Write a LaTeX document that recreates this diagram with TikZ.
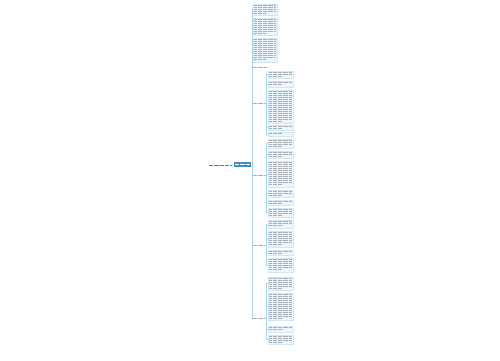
\documentclass[tikz,border=0pt]{standalone}
\usepackage{tikz}
\usetikzlibrary{fit,calc}
\definecolor{hubblue}{HTML}{3E8EBF}
\definecolor{boxfill}{HTML}{EEF6FC}
\definecolor{boxline}{HTML}{CFE6F4}
\definecolor{linkblue}{HTML}{A9D3EC}
\definecolor{inkgray}{HTML}{A7AFB5}
\definecolor{rootgray}{HTML}{6E7479}

\tikzset{
  tbox/.style={draw=boxline, fill=boxfill, line width=0.2pt, inner sep=0pt},
  hubbox/.style={fill=hubblue, inner sep=0pt},
  label/.style={inner sep=0pt},
  conn/.style={linkblue, line width=0.45pt},
  txtline/.style={inkgray, line width=0.45pt, dash pattern=on 0.45pt off 0.25pt},
}

% text block: name, x1, y1, x2, y2 (pixels)
\newcommand{\tblock}[5]{%
  \node[tbox, fit={(#2,#3) (#4,#5)}] (#1) {};
  \pgfmathtruncatemacro{\nl}{(#5-#3-1)/2}
  \foreach \k in {1,...,\nl} {
    \ifnum\k<\nl
      \draw[txtline] (#2+1,{#3+2*\k-0.3}) -- (#4-1,{#3+2*\k-0.3});
    \else
      \draw[txtline] (#2+1,{#3+2*\k-0.3}) -- ({#2+1+0.55*(#4-#2-2)},{#3+2*\k-0.3});
    \fi
  }
}
% short topic text: name, x, y, width
\newcommand{\topic}[4]{%
  \node[label, minimum width=#4*0.02cm, minimum height=0.06cm] (#1) at (#2,#3) {};
  \draw[txtline] (#1.west) -- (#1.east);
}

\begin{document}
\begin{tikzpicture}[x=0.02cm, y=-0.02cm]
  \useasboundingbox (0,0) rectangle (500,360);
  \fill[white] (0,0) rectangle (500,360);

  % root and hub
  \node[label, minimum width=0.44cm, minimum height=0.06cm] (root) at (220,165) {};
  \draw[txtline, rootgray] (root.west) -- (root.east);
  \node[hubbox, fit={(234,162) (251,167)}] (hub) {};
  \draw[white, line width=0.5pt, dash pattern=on 0.45pt off 0.25pt] ($(hub.west)+(1,0)$) -- ($(hub.east)+(-1,0)$);
  \draw[conn] (root.east) -- (hub.west);

  % top blocks
  \tblock{t1}{253}{4}{277}{15}
  \tblock{t2}{253}{18}{277}{35}
  \tblock{t3}{253}{38}{277}{62}

  % second level topics
  \topic{lab1}{260}{67}{14}
  \topic{lab2}{259}{103}{12}
  \topic{lab3}{259}{175}{12}
  \topic{lab4}{259}{245}{12}
  \topic{lab5}{259}{318}{12}

  % third level blocks
  \tblock{b1}{268}{71}{293}{78}
  \tblock{b2}{268}{81}{293}{87}
  \tblock{b3}{268}{90}{293}{123}
  \tblock{b4}{268}{125}{293}{130}
  \tblock{b5}{268}{132}{293}{136}
  \tblock{b6}{268}{139}{293}{148}
  \tblock{b7}{268}{151}{293}{158}
  \tblock{b8}{268}{161}{293}{187}
  \tblock{b9}{268}{190}{293}{197}
  \tblock{b10}{268}{200}{293}{205}
  \tblock{b11}{268}{208}{293}{217}
  \tblock{b12}{268}{220}{293}{228}
  \tblock{b13}{268}{231}{293}{247}
  \tblock{b14}{268}{250}{293}{255}
  \tblock{b15}{268}{258}{293}{272}
  \tblock{b16}{268}{277}{293}{290}
  \tblock{b17}{268}{293}{293}{320}
  \tblock{b18}{268}{326}{293}{332}
  \tblock{b19}{268}{335}{293}{344}

  % connectors
  \foreach \n in {t1,t2,t3,lab1,lab2,lab3,lab4,lab5}
    \draw[conn] (hub.east) -- ++(1,0) |- (\n.west);
  \foreach \n in {b1,b2,b3,b4,b5}
    \draw[conn] (lab2.east) -- ++(1.5,0) |- (\n.west);
  \foreach \n in {b6,b7,b8,b9,b10,b11}
    \draw[conn] (lab3.east) -- ++(1.5,0) |- (\n.west);
  \foreach \n in {b12,b13,b14,b15}
    \draw[conn] (lab4.east) -- ++(1.5,0) |- (\n.west);
  \foreach \n in {b16,b17,b18,b19}
    \draw[conn] (lab5.east) -- ++(1.5,0) |- (\n.west);
\end{tikzpicture}
\end{document}
